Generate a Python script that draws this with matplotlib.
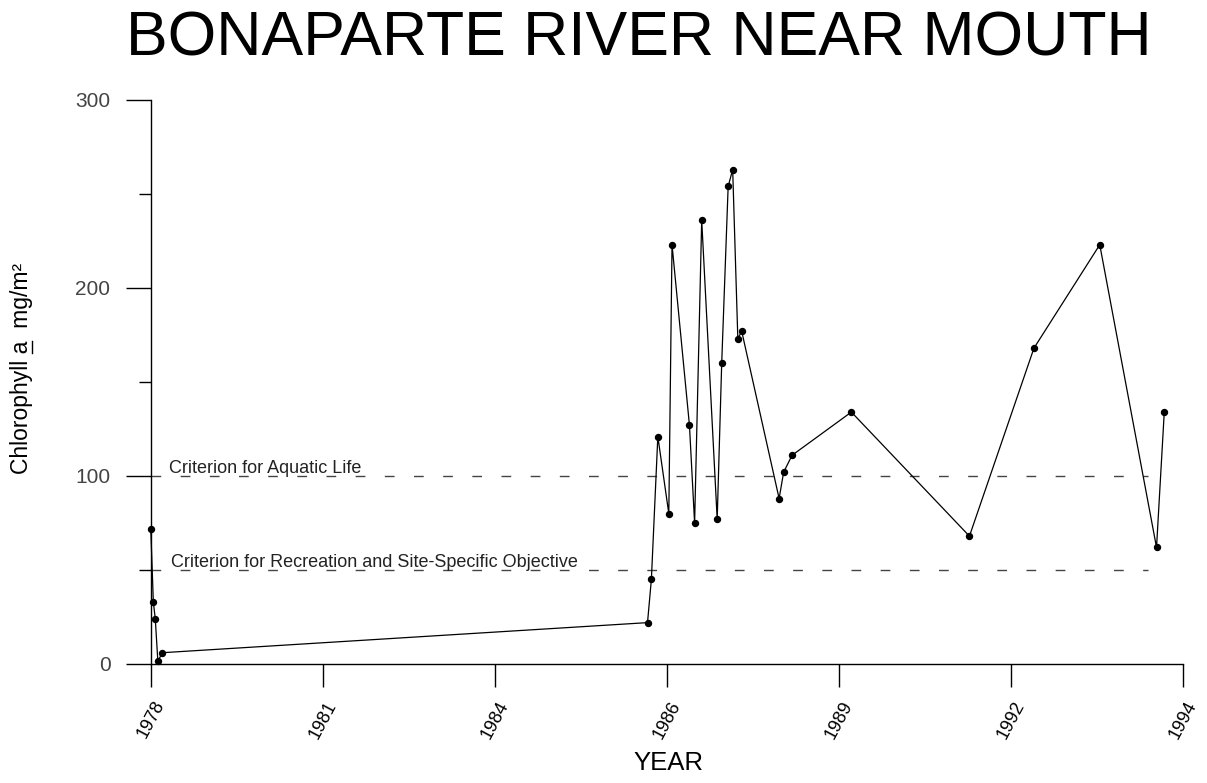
import matplotlib
matplotlib.use('Agg')
import matplotlib.pyplot as plt
import numpy as np
from matplotlib.ticker import MultipleLocator
from matplotlib.lines import Line2D

plt.rcParams['font.family'] = ['Liberation Sans', 'DejaVu Sans']

# sample dates (decimal year) and chlorophyll a values
years = [1978.00, 1978.04, 1978.07, 1978.11, 1978.18,
         1985.70, 1985.76, 1985.86, 1986.03, 1986.08, 1986.35, 1986.43,
         1986.54, 1986.78, 1986.85, 1986.95, 1987.02, 1987.10, 1987.16,
         1987.74, 1987.81, 1987.94, 1988.86, 1990.69, 1991.69, 1992.71,
         1993.59, 1993.71]
chl = [72, 33, 24, 1.5, 6,
       22, 45, 121, 80, 223, 127, 75,
       236, 77, 160, 254, 263, 173, 177,
       88, 102, 111, 134, 68, 168, 223,
       62, 134]

# criteria lines
crit_aquatic = 100
crit_recreation = 50

# x axis: evenly spaced ticks with the labels as printed
xtick_labels = ['1978', '1981', '1984', '1986', '1989', '1992', '1994']
ytick_values = [0, 100, 200, 300]

W, H = 1207, 783
fig = plt.figure(figsize=(W / 100, H / 100), dpi=100)
ax = fig.add_axes([0.1249, 0.152, 0.8552, 0.7203])

ax.plot(years, chl, color='black', lw=0.9, marker='o', ms=4.3,
        mfc='black', mec='black', clip_on=False, zorder=3)

# dashed criterion lines
ax.plot([1978, 1993.46], [crit_aquatic, crit_aquatic], color='#444444',
        lw=1.0, dashes=(7, 14), zorder=2)
ax.plot([1978, 1993.46], [crit_recreation, crit_recreation], color='#444444',
        lw=1.0, dashes=(7, 14), zorder=2)
ax.text(1978.28, crit_aquatic + 1.8, 'Criterion for Aquatic Life',
        fontsize=13, color='#222222', va='baseline', ha='left')
ax.text(1978.31, crit_recreation + 1.8,
        'Criterion for Recreation and Site-Specific Objective',
        fontsize=13, color='#222222', va='baseline', ha='left')

ax.set_xlim(1978, 1994)
ax.set_ylim(0, 300)
ax.set_xticks(np.linspace(1978, 1994, 7))
ax.set_xticklabels(xtick_labels, rotation=62, ha='center', va='top',
                   fontsize=13)
ax.set_yticks(ytick_values)
ax.set_yticklabels([str(v) for v in ytick_values], fontsize=15,
                   color='#444444')
ax.yaxis.set_minor_locator(MultipleLocator(50))

for side in ['top', 'right']:
    ax.spines[side].set_visible(False)
for side in ['left', 'bottom']:
    ax.spines[side].set_linewidth(1.0)

ax.tick_params(axis='x', direction='out', length=16.5, width=1.0, pad=8)
ax.tick_params(axis='y', which='major', direction='out', length=18,
               width=1.0, pad=11)
ax.tick_params(axis='y', which='minor', direction='out', length=9,
               width=1.0)

fig.text(0.529, (H - 56) / H, 'BONAPARTE RIVER NEAR MOUTH', fontsize=45,
         ha='center', va='baseline')
fig.text(0.5535, (H - 762.5) / H, 'YEAR', fontsize=18.5, ha='center',
         va='center')

# y label with the "a" underlined
ylab_size = 16.5
ylab = fig.text(22 / W, (H - 368.5) / H, 'Chlorophyll a  mg/m\u00b2',
                fontsize=ylab_size, rotation=90, ha='center', va='center')
r = fig.canvas.get_renderer()
tmp1 = fig.text(0, 0, 'Chlorophyll ', fontsize=ylab_size)
tmp2 = fig.text(0, 0, 'Chlorophyll a', fontsize=ylab_size)
w1 = tmp1.get_window_extent(r).width
w2 = tmp2.get_window_extent(r).width
tmp1.remove()
tmp2.remove()
bb = ylab.get_window_extent(r)
y0 = bb.y0
ux = bb.x1 - 1.5
fig.add_artist(Line2D([ux / W, ux / W], [(y0 + w1) / H, (y0 + w2) / H],
                      color='black', lw=1.0, transform=fig.transFigure))

fig.savefig('out.png', dpi=100)
